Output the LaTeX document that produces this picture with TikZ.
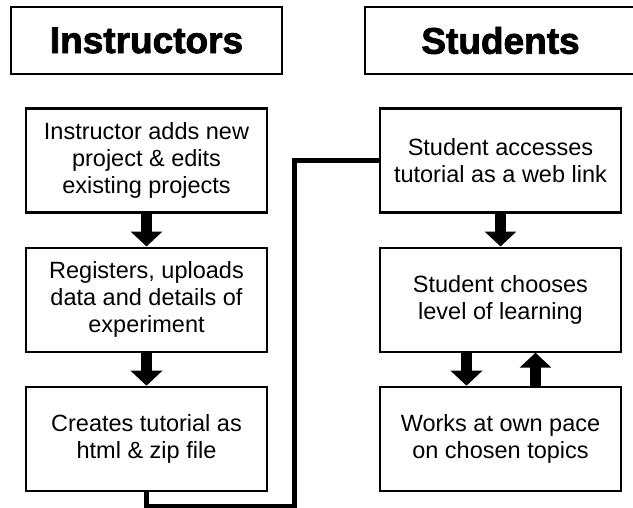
\documentclass[tikz,border=0pt]{standalone}
\usepackage{fontspec}
\setmainfont{Liberation Sans}
\newfontfamily\headfont[FakeBold=2.2]{Liberation Sans Bold}
\usetikzlibrary{positioning,arrows.meta}
\tikzset{
  headbox/.style  = {draw=black, line width=2.6pt, minimum width=271pt, minimum height=67pt,
                     inner sep=0pt, font=\headfont\fontsize{37}{40}\selectfont},
  stepbox/.style  = {draw=black, line width=2.2pt, minimum width=241pt, minimum height=104pt,
                     align=center, inner sep=2pt, font=\fontsize{23.5}{27}\selectfont},
  bigarrow/.style = {-{Triangle[width=31pt,length=15pt]}, line width=11.5pt, draw=black},
  link/.style     = {line width=5pt, draw=black, line join=miter},
}

\begin{document}
\begin{tikzpicture}[x=1pt, y=-1pt, node distance=33pt]
\clip (0,0) rectangle (633,507);

\node[headbox] (ihead) at (146.5,40.5) {Instructors};
\node[headbox] (shead) at (500.5,40.5) {Students};

% instructor side
\node[stepbox, below=32pt of ihead] (i1) {Instructor adds new\\project \& edits\\existing projects};
\node[stepbox, below=of i1] (i2) {Registers, uploads\\data and details of\\experiment};
\node[stepbox, below=of i2] (i3) {Creates tutorial as\\html \& zip file};

% student side
\node[stepbox, below=32pt of shead] (s1) {Student accesses\\tutorial as a web link};
\node[stepbox, below=of s1] (s2) {Student chooses\\level of learning};
\node[stepbox, below=of s2] (s3) {Works at own pace\\on chosen topics};

\draw[bigarrow] (i1) -- (i2);
\draw[bigarrow] (i2) -- (i3);
\draw[bigarrow] (s1) -- (s2);
\draw[bigarrow] ([xshift=-34pt]s2.south) -- ([xshift=-34pt]s3.north);
\draw[bigarrow] ([xshift=35pt]s3.north) -- ([xshift=35pt]s2.south);

% tutorial handed over to the students
\draw[link] (i3.south) -- ++(0,15) -| ([xshift=-84pt]s1.west) -- (s1.west);

\end{tikzpicture}
\end{document}
